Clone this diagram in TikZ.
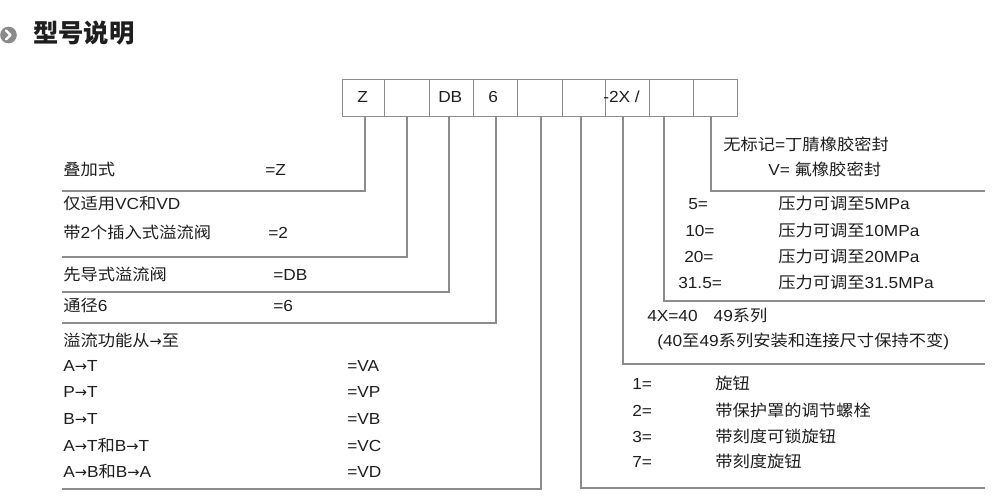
\documentclass[tikz,border=0pt]{standalone}
\usepackage{fontspec}
\setmainfont[FakeStretch=1.08]{Liberation Sans}
\newfontfamily\zh[FakeStretch=1.08]{Noto Sans CJK SC}
\newfontfamily\zhtitle{Noto Sans CJK SC}
\newfontfamily\arrfont{DejaVu Sans}
\newcommand{\rarr}{{\arrfont\fontsize{11pt}{13pt}\selectfont →}}
\definecolor{ln}{HTML}{8C8C8C}
\definecolor{tx}{HTML}{1E1E1E}
\definecolor{icon}{HTML}{8A8A8A}
\begin{document}
\begin{tikzpicture}[x=0.75pt,y=-0.75pt,
  cell/.style={draw=ln, line width=0.8pt, minimum height=27.75pt, inner sep=0pt, anchor=north west},
  lbl/.style={anchor=base west, inner sep=0pt, text=tx, font=\fontsize{12pt}{14pt}\selectfont},
  conn/.style={draw=ln, line width=0.8pt}
]
\useasboundingbox (0,0) rectangle (1008,498);

% title
\node[circle, fill=icon, minimum size=12.5pt, inner sep=0pt] (ic) at (8.5,35) {};
\draw[white, line width=1.6pt, line cap=round, line join=round] (6,30.5) -- (10.5,35) -- (6,39.5);
\node[anchor=base west, inner sep=0pt, text=tx, font=\zhtitle\bfseries\fontsize{19pt}{21pt}\selectfont] (title) at (33,43) {型号说明};

% code cells
\node[cell, minimum width=31.5pt]  (b1) at (342,79) {};
\node[cell, minimum width=33.75pt] (b2) at (384,79) {};
\node[cell, minimum width=33pt]    (b3) at (429,79) {};
\node[cell, minimum width=33pt]    (b4) at (473,79) {};
\node[cell, minimum width=33.75pt] (b5) at (517,79) {};
\node[cell, minimum width=32.25pt] (b6) at (562,79) {};
\node[cell, minimum width=33pt]    (b7) at (605,79) {};
\node[cell, minimum width=33pt]    (b8) at (649,79) {};
\node[cell, minimum width=33pt]    (b9) at (693,79) {};

\node[lbl] (tz)  at (357,103) {Z};
\node[lbl] (tdb) at (438,103) {DB};
\node[lbl] (t6)  at (488,103) {6};
\node[lbl] (t2x) at (603,103) {-2X /};

% drop points
\coordinate (d1) at (365,116);
\coordinate (d2) at (407,116);
\coordinate (d3) at (449,116);
\coordinate (d4) at (496,116);
\coordinate (d5) at (541,116);
\coordinate (d6) at (581,116);
\coordinate (d7) at (623,116);
\coordinate (d8) at (664,116);
\coordinate (d9) at (711,116);

% line ends
\coordinate (e1) at (62,191);
\coordinate (e2) at (62,257);
\coordinate (e3) at (62,292);
\coordinate (e4) at (62,323);
\coordinate (e5) at (62,489);
\coordinate (e6) at (985,488);
\coordinate (e7) at (985,364);
\coordinate (e8) at (985,301);
\coordinate (e9) at (985,191);

\foreach \i in {1,...,9} { \draw[conn] (d\i) |- (e\i); }

% left texts
\node[lbl] (l1)  at (63,176) {\zh 叠加式};
\node[lbl] (l1v) at (265,176) {=Z};
\node[lbl] (l2a) at (63,210) {{\zh 仅适用}VC{\zh 和}VD};
\node[lbl] (l2b) at (63,239) {{\zh 带}2{\zh 个插入式溢流阀}};
\node[lbl] (l2v) at (268,239) {=2};
\node[lbl] (l3)  at (63,281) {\zh 先导式溢流阀};
\node[lbl] (l3v) at (273,281) {=DB};
\node[lbl] (l4)  at (63,312) {{\zh 通径}6};
\node[lbl] (l4v) at (273,312) {=6};
\node[lbl] (l5)  at (63,347) {{\zh 溢流功能从}\rarr{\zh 至}};
\node[lbl] (l5a) at (63,372) {A\rarr T};
\node[lbl] (l5b) at (63,398) {P\rarr T};
\node[lbl] (l5c) at (63,425) {B\rarr T};
\node[lbl] (l5d) at (63,452) {A\rarr T{\zh 和}B\rarr T};
\node[lbl] (l5e) at (63,478) {A\rarr B{\zh 和}B\rarr A};
\node[lbl] (v5a) at (347,372) {=VA};
\node[lbl] (v5b) at (347,398) {=VP};
\node[lbl] (v5c) at (347,425) {=VB};
\node[lbl] (v5d) at (347,452) {=VC};
\node[lbl] (v5e) at (347,478) {=VD};

% right texts
\node[lbl] (r9a) at (723,151) {{\zh 无标记}={\zh 丁腈橡胶密封}};
\node[lbl] (r9b) at (768,176) {V= {\zh 氟橡胶密封}};
\node[lbl] (r8a) at (688,210) {5=};
\node[lbl] (r8b) at (685,237) {10=};
\node[lbl] (r8c) at (684,263) {20=};
\node[lbl] (r8d) at (678,289) {31.5=};
\node[lbl] (p8a) at (778,210) {{\zh 压力可调至}5MPa};
\node[lbl] (p8b) at (778,237) {{\zh 压力可调至}10MPa};
\node[lbl] (p8c) at (778,263) {{\zh 压力可调至}20MPa};
\node[lbl] (p8d) at (778,289) {{\zh 压力可调至}31.5MPa};
\node[lbl] (r7a) at (647,322) {4X=40\hspace{12pt}49{\zh 系列}};
\node[lbl] (r7b) at (657,347) {(40{\zh 至}49{\zh 系列安装和连接尺寸保持不变})};
\node[lbl] (r6a) at (632,390) {1=};
\node[lbl] (r6b) at (632,417) {2=};
\node[lbl] (r6c) at (632,443) {3=};
\node[lbl] (r6d) at (632,468) {7=};
\node[lbl] (k6a) at (715,390) {\zh 旋钮};
\node[lbl] (k6b) at (715,417) {\zh 带保护罩的调节螺栓};
\node[lbl] (k6c) at (715,443) {\zh 带刻度可锁旋钮};
\node[lbl] (k6d) at (715,468) {\zh 带刻度旋钮};
\end{tikzpicture}
\end{document}
